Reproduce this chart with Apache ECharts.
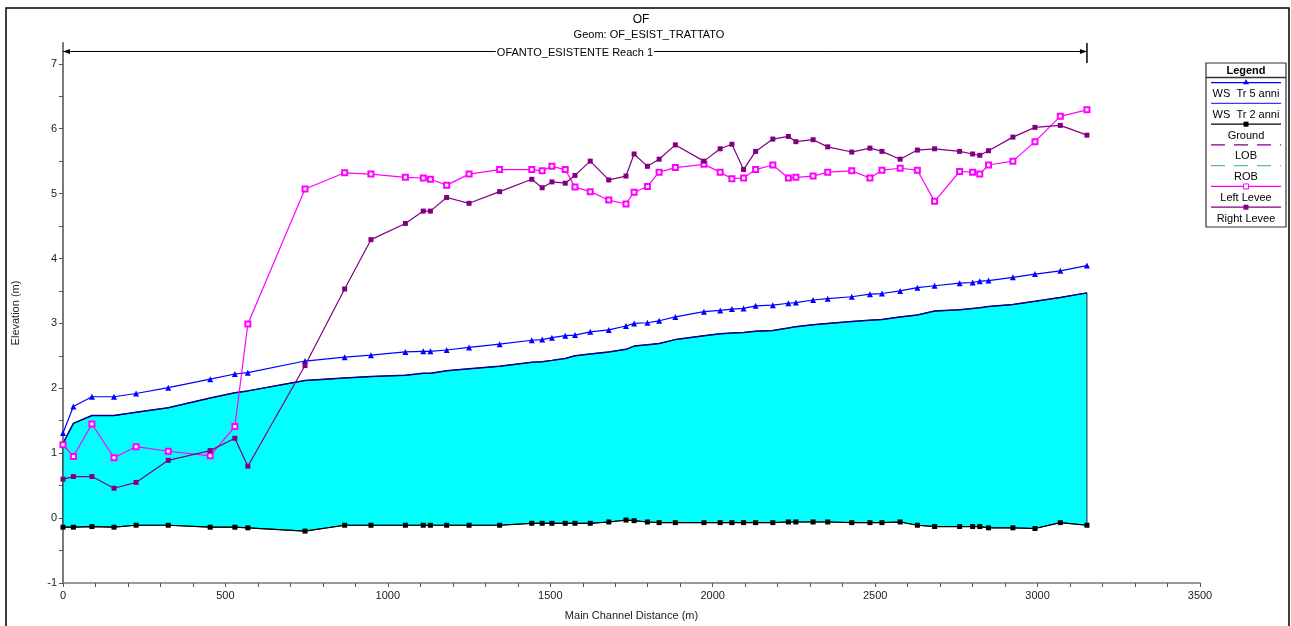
<!DOCTYPE html>
<html><head><meta charset="utf-8">
<script src="https://cdn.jsdelivr.net/npm/echarts@6/dist/echarts.min.js"></script>
<style>html,body{margin:0;padding:0;background:#fff}#c{width:1291px;height:626px}</style>
</head><body><div id="c"></div>
<script>
// ---- data ----
const stations = [0, 32, 89, 157, 225, 324, 453, 529, 569, 745, 867, 948, 1054, 1109, 1131, 1181, 1250, 1344, 1443, 1475, 1505, 1546, 1576, 1623, 1680, 1733, 1758, 1799, 1835, 1885, 1973, 2023, 2059, 2095, 2132, 2185, 2233, 2256, 2309, 2354, 2428, 2484, 2521, 2577, 2630, 2683, 2760, 2800, 2822, 2849, 2924, 2992, 3070, 3152];
const ground = [-0.14, -0.14, -0.13, -0.14, -0.11, -0.11, -0.14, -0.14, -0.15, -0.20, -0.11, -0.11, -0.11, -0.11, -0.11, -0.11, -0.11, -0.11, -0.08, -0.08, -0.08, -0.08, -0.08, -0.08, -0.06, -0.03, -0.04, -0.06, -0.07, -0.07, -0.07, -0.07, -0.07, -0.07, -0.07, -0.07, -0.06, -0.06, -0.06, -0.06, -0.07, -0.07, -0.07, -0.06, -0.11, -0.13, -0.13, -0.13, -0.13, -0.15, -0.15, -0.16, -0.07, -0.11];
const wsTr2 = [1.15, 1.46, 1.58, 1.58, 1.63, 1.70, 1.85, 1.93, 1.96, 2.12, 2.16, 2.18, 2.20, 2.23, 2.23, 2.27, 2.30, 2.34, 2.40, 2.41, 2.43, 2.46, 2.50, 2.53, 2.56, 2.60, 2.65, 2.67, 2.69, 2.75, 2.81, 2.84, 2.85, 2.86, 2.88, 2.89, 2.93, 2.95, 2.98, 3.00, 3.03, 3.05, 3.06, 3.10, 3.13, 3.19, 3.21, 3.23, 3.24, 3.26, 3.29, 3.34, 3.40, 3.47];
const wsTr5 = [1.31, 1.72, 1.87, 1.87, 1.92, 2.01, 2.14, 2.22, 2.24, 2.42, 2.48, 2.51, 2.56, 2.57, 2.57, 2.59, 2.63, 2.68, 2.74, 2.75, 2.78, 2.81, 2.82, 2.87, 2.90, 2.96, 3.00, 3.01, 3.04, 3.10, 3.18, 3.20, 3.22, 3.23, 3.27, 3.28, 3.31, 3.32, 3.36, 3.38, 3.41, 3.45, 3.46, 3.50, 3.55, 3.58, 3.62, 3.63, 3.65, 3.66, 3.71, 3.76, 3.81, 3.89];
const leftLevee = [1.13, 0.95, 1.45, 0.93, 1.10, 1.03, 0.96, 1.41, 2.99, 5.07, 5.32, 5.30, 5.25, 5.24, 5.22, 5.13, 5.30, 5.37, 5.37, 5.35, 5.42, 5.37, 5.10, 5.03, 4.90, 4.84, 5.02, 5.11, 5.33, 5.40, 5.45, 5.33, 5.23, 5.24, 5.37, 5.44, 5.24, 5.25, 5.27, 5.33, 5.35, 5.24, 5.36, 5.39, 5.36, 4.88, 5.34, 5.33, 5.30, 5.44, 5.50, 5.80, 6.19, 6.29];
const rightLevee = [0.60, 0.64, 0.64, 0.46, 0.55, 0.89, 1.04, 1.23, 0.80, 2.35, 3.53, 4.29, 4.54, 4.73, 4.73, 4.94, 4.85, 5.03, 5.22, 5.09, 5.18, 5.16, 5.28, 5.50, 5.21, 5.27, 5.61, 5.42, 5.53, 5.75, 5.50, 5.69, 5.76, 5.37, 5.65, 5.84, 5.88, 5.80, 5.83, 5.72, 5.64, 5.70, 5.65, 5.53, 5.67, 5.69, 5.65, 5.61, 5.59, 5.66, 5.87, 6.02, 6.05, 5.90];
const xTickLabels = [0, 500, 1000, 1500, 2000, 2500, 3000, 3500];
const yTickLabels = [-1, 0, 1, 2, 3, 4, 5, 6, 7];
const legendNames = ['WS  Tr 5 anni', 'WS  Tr 2 anni', 'Ground', 'LOB', 'ROB', 'Left Levee', 'Right Levee'];
const titleText = 'OF';
const subtitleText = 'Geom: OF_ESIST_TRATTATO';
const reachText = 'OFANTO_ESISTENTE Reach 1';

// ---- build ----
const FONT = '"Liberation Sans", Arial, sans-serif';
const pair = arr => stations.map((s, i) => [s, arr[i]]);
const last = stations.length - 1;
const xMinor = []; for (let v = 0; v <= 3500; v += 100) xMinor.push(v);
const yMinor = []; for (let v = -1; v <= 7; v += 0.5) yMinor.push(v);

const chart = echarts.init(document.getElementById('c'), null, {renderer: 'canvas'});
const option = {
  animation: false,
  backgroundColor: '#fff',
  textStyle: {fontFamily: FONT},
  grid: {left: 63, top: 43, width: 1137, height: 544},
  xAxis: {
    type: 'value', min: 0, max: 3500, interval: 500,
    name: 'Main Channel Distance (m)', nameLocation: 'middle', nameGap: 27,
    nameTextStyle: {fontFamily: FONT, fontSize: 11, color: '#222'},
    axisLine: {onZero: false, lineStyle: {color: '#7a7a7a', width: 1.5}},
    axisTick: {customValues: xMinor, length: 4, lineStyle: {color: '#555'}},
    axisLabel: {customValues: xTickLabels, formatter: v => String(v), fontFamily: FONT, fontSize: 11, color: '#222', margin: 7},
    splitLine: {show: false}
  },
  yAxis: {
    type: 'value', min: -1, max: 7.32,
    name: 'Elevation (m)', nameLocation: 'middle', nameGap: 42,
    nameTextStyle: {fontFamily: FONT, fontSize: 11, color: '#222'},
    axisLine: {show: true, onZero: false, lineStyle: {color: '#7a7a7a', width: 2}},
    axisTick: {show: true, customValues: yMinor, length: 4, lineStyle: {color: '#555'}},
    axisLabel: {customValues: yTickLabels, formatter: v => String(v), fontFamily: FONT, fontSize: 11, color: '#222', margin: 6},
    splitLine: {show: false}
  },
  series: [
    {name: 'wsFill', type: 'custom', silent: true, z: 1,
     data: stations.map((s, i) => [s, wsTr2[i], ground[i]]),
     encode: {x: 0, y: [1, 2]},
     renderItem: function (params, api) {
       if (params.dataIndex !== 0) return null;
       const top = stations.map((s, i) => api.coord([s, wsTr2[i]]));
       const bot = stations.map((s, i) => api.coord([s, ground[i]])).reverse();
       return {type: 'polygon', shape: {points: top.concat(bot)},
               style: {fill: '#00ffff', stroke: '#0a2a3a', lineWidth: 1}};
     }},
    {name: 'WS  Tr 2 anni', type: 'line', data: pair(wsTr2), symbol: 'none', silent: true,
     lineStyle: {color: '#00008b', width: 1.5}, z: 3},
    {name: 'Ground', type: 'line', data: pair(ground), symbol: 'rect', symbolSize: 5,
     itemStyle: {color: '#000'}, lineStyle: {color: '#000', width: 1.2}, z: 5},
    {name: 'WS  Tr 5 anni', type: 'line', data: pair(wsTr5), symbol: 'triangle', symbolSize: 6,
     itemStyle: {color: '#0000ff'}, lineStyle: {color: '#0000ff', width: 1.2}, z: 5},
    {name: 'Left Levee', type: 'line', data: pair(leftLevee), symbol: 'emptyRect', symbolSize: 5,
     itemStyle: {color: '#ff00ff', borderWidth: 1}, lineStyle: {color: '#ff00ff', width: 1.2}, z: 6},
    {name: 'Right Levee', type: 'line', data: pair(rightLevee), symbol: 'rect', symbolSize: 5,
     itemStyle: {color: '#800080'}, lineStyle: {color: '#800080', width: 1.2}, z: 6}
  ]
};
chart.setOption(option);

// ---- annotations: frame, titles, reach line, legend ----
const x0 = chart.convertToPixel({xAxisIndex: 0}, stations[0]);
const x1 = chart.convertToPixel({xAxisIndex: 0}, stations[last]);
const ry = 51.5;
const g = [];
g.push({type: 'rect', shape: {x: 6, y: 8, width: 1283, height: 700}, style: {fill: 'none', stroke: '#000', lineWidth: 1.5}, silent: true});
g.push({type: 'text', x: 641, y: 20, style: {text: titleText, font: '12px ' + FONT, fill: '#000', align: 'center', verticalAlign: 'middle'}});
g.push({type: 'text', x: 649, y: 35, style: {text: subtitleText, font: '11px ' + FONT, fill: '#000', align: 'center', verticalAlign: 'middle'}});
g.push({type: 'line', shape: {x1: x0, y1: ry, x2: x1, y2: ry}, style: {stroke: '#000', lineWidth: 1}, z: 10});
g.push({type: 'line', shape: {x1: x1, y1: 43, x2: x1, y2: 63}, style: {stroke: '#000', lineWidth: 1.5}, z: 10});
g.push({type: 'polygon', shape: {points: [[x0, ry], [x0 + 7, ry - 2.5], [x0 + 7, ry + 2.5]]}, style: {fill: '#000'}, z: 10});
g.push({type: 'polygon', shape: {points: [[x1, ry], [x1 - 7, ry - 2.5], [x1 - 7, ry + 2.5]]}, style: {fill: '#000'}, z: 10});
g.push({type: 'text', x: (x0 + x1) / 2, y: ry + 1.5, z: 11, style: {text: reachText, font: '11px ' + FONT, fill: '#000', align: 'center', verticalAlign: 'middle', backgroundColor: '#fff', padding: [0, 1]}});

// legend
const LX = 1206, LY = 63, LW = 80, LH = 164;
g.push({type: 'rect', shape: {x: LX, y: LY, width: LW, height: LH}, style: {fill: '#fff', stroke: '#333', lineWidth: 1.2}, z: 20});
g.push({type: 'text', x: LX + LW / 2, y: LY + 7.5, z: 21, style: {text: 'Legend', font: 'bold 11px ' + FONT, fill: '#000', align: 'center', verticalAlign: 'middle'}});
g.push({type: 'line', shape: {x1: LX, y1: LY + 14.5, x2: LX + LW, y2: LY + 14.5}, style: {stroke: '#333', lineWidth: 1.5}, z: 21});
const legStyles = [
  {color: '#0000ff', mark: 'tri'},
  {color: '#3a3aff', mark: null},
  {color: '#000000', mark: 'rect'},
  {color: '#800080', mark: null, dash: [14, 9]},
  {color: '#5fb8b0', mark: null, dash: [14, 9]},
  {color: '#ff00ff', mark: 'erect'},
  {color: '#800080', mark: 'rect'}
];
legendNames.forEach((nm, i) => {
  const ly = 82.7 + i * 20.75;
  const st = legStyles[i];
  const cx = LX + LW / 2;
  g.push({type: 'line', shape: {x1: LX + 5, y1: ly, x2: LX + LW - 5, y2: ly}, style: {stroke: st.color, lineWidth: 1.2, lineDash: st.dash || null}, z: 21});
  if (st.mark === 'tri') g.push({type: 'polygon', shape: {points: [[cx, ly - 3.5], [cx - 3, ly + 1.5], [cx + 3, ly + 1.5]]}, style: {fill: st.color}, z: 22});
  if (st.mark === 'rect') g.push({type: 'rect', shape: {x: cx - 2.5, y: ly - 2.5, width: 5, height: 5}, style: {fill: st.color}, z: 22});
  if (st.mark === 'erect') g.push({type: 'rect', shape: {x: cx - 2.5, y: ly - 2.5, width: 5, height: 5}, style: {fill: '#fff', stroke: st.color, lineWidth: 1}, z: 22});
  g.push({type: 'text', x: cx, y: ly + 11.5, z: 21, style: {text: nm, font: '11px ' + FONT, fill: '#000', align: 'center', verticalAlign: 'middle'}});
});
chart.setOption({graphic: g});
</script>
</body></html>
